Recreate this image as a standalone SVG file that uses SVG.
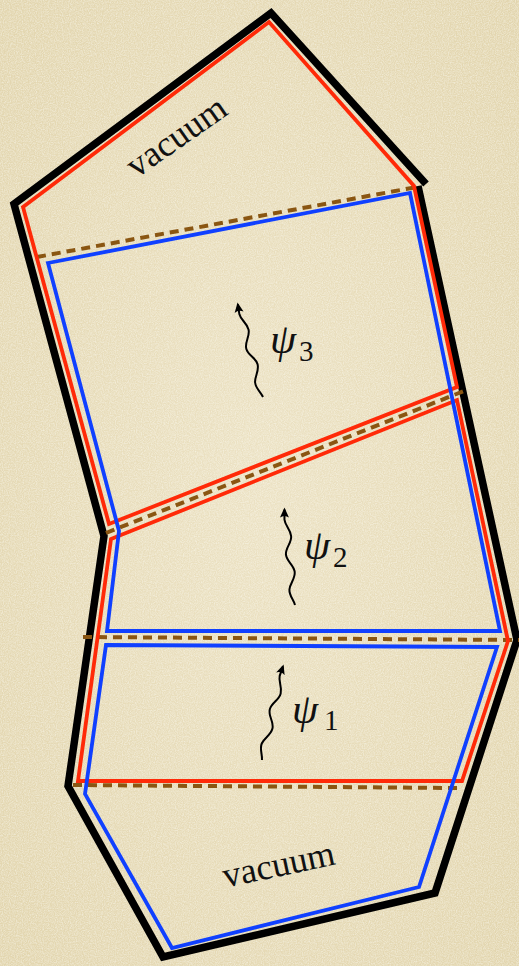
<svg xmlns="http://www.w3.org/2000/svg" width="519" height="966" viewBox="0 0 519 966">
<style>
.blk{fill:none;stroke:#000;stroke-width:7.5;stroke-linejoin:miter;stroke-linecap:butt}
.red{fill:none;stroke:#ff2a08;stroke-width:3.8;stroke-linejoin:miter}
.blu{fill:none;stroke:#1040ff;stroke-width:3.8;stroke-linejoin:miter}
.dash{fill:none;stroke:#8a5612;stroke-width:4;stroke-dasharray:9 6}
.wig{fill:none;stroke:#000;stroke-width:2;marker-end:url(#ah)}
.lbl{font-family:"Liberation Serif","Times New Roman",serif;fill:#111}
.psi{font-style:italic;font-size:42px}
.sub{font-size:29px}
.vac{font-size:36px}
</style>
<defs>
<filter id="paper" x="0" y="0" width="100%" height="100%">
<feTurbulence type="fractalNoise" baseFrequency="0.85" numOctaves="2" seed="4"/>
<feColorMatrix type="matrix" values="0 0 0 0 1  0 0 0 0 1  0 0 0 0 0.95  0.9 0 0 0 -0.3"/>
</filter>
<radialGradient id="vig" cx="50%" cy="50%" r="70%">
<stop offset="0" stop-color="#ece2c4"/>
<stop offset="1" stop-color="#e2d5ae"/>
</radialGradient>
<marker id="ah" viewBox="-10 -6 14 12" markerWidth="14" markerHeight="12" refX="0" refY="0" orient="auto" markerUnits="userSpaceOnUse">
<path d="M2,0 L-8,-4.5 Q-5,0 -8,4.5 Z" fill="#000"/>
</marker>
<path id="wiggle" d="M0,0 C-1,-6 -5,-10 -4,-16 C-3,-22 3,-26 3,-33 C3,-40 -4,-44 -4,-51 C-4,-58 3,-62 3,-69 C3,-76 -2,-80 -2,-86 L-1,-96"/>
</defs>
<g id="background">
<rect width="519" height="966" fill="url(#vig)"/>
<rect width="519" height="966" filter="url(#paper)"/>
</g>
<g id="outline">
<path class="blk" d="M418,186 L517,640 L435,893 L163,957 L68,786 L104,536 L14,204 L271,13 L426,184"/>
</g>
<g id="interfaces">
<line class="dash" x1="37" y1="257" x2="417" y2="187"/>
<line class="dash" x1="106" y1="533" x2="464" y2="391"/>
<line class="dash" x1="83" y1="637" x2="519" y2="640"/>
<line class="dash" x1="73" y1="785" x2="458" y2="788"/>
</g>
<g id="region3-red">
<path class="red" d="M23,207 L269,22 L414,186 L457,387 L109,524 Z"/>
</g>
<g id="region12-red">
<path class="red" d="M111,539 L457,400 L508,641 L462,781 L78,781 Z"/>
</g>
<g id="region23-blue">
<path class="blu" d="M48,263 L410,193 L500,631 L107,631 L119,531 Z"/>
</g>
<g id="region1v-blue">
<path class="blu" d="M106,645 L497,647 L419,887 L172,948 L85,794 Z"/>
</g>
<g id="psi3">
<use href="#wiggle" class="wig" transform="translate(263,397) rotate(-14.6)"/>
<text class="lbl psi" x="270" y="353">ψ</text>
<text class="lbl sub" x="299" y="361">3</text>
</g>
<g id="psi2">
<use href="#wiggle" class="wig" transform="translate(295,605) rotate(-5.7)"/>
<text class="lbl psi" x="304" y="559">ψ</text>
<text class="lbl sub" x="333" y="567">2</text>
</g>
<g id="psi1">
<use href="#wiggle" class="wig" transform="translate(262,760) rotate(13.2)"/>
<text class="lbl psi" x="292" y="723">ψ</text>
<text class="lbl sub" x="324" y="730">1</text>
</g>
<g id="vacuum-top">
<text class="lbl vac" text-anchor="middle" transform="translate(183,146) rotate(-35)">vacuum</text>
</g>
<g id="vacuum-bottom">
<text class="lbl vac" text-anchor="middle" transform="translate(281,876) rotate(-12)">vacuum</text>
</g>
</svg>
